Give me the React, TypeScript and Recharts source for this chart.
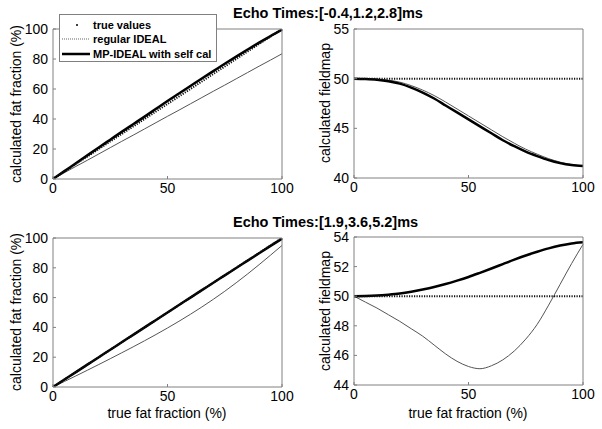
import { Legend, Line, LineChart, XAxis, YAxis } from 'recharts';

const FONT = '"Liberation Sans", Arial, sans-serif';
const AXIS_GREY = '#808080';

// true fat fraction (%) sampled every 5%
const trueFat = [0, 5, 10, 15, 20, 25, 30, 35, 40, 45, 50, 55, 60, 65, 70, 75, 80, 85, 90, 95, 100];
const trueField = [50, 50, 50, 50, 50, 50, 50, 50, 50, 50, 50, 50, 50, 50, 50, 50, 50, 50, 50, 50, 50];

// echo times [-0.4, 1.2, 2.8] ms
const fatRegularA = [0, 4.2, 8.4, 12.5, 16.7, 20.9, 25.1, 29.2, 33.4, 37.6, 41.8, 45.9, 50.1, 54.3, 58.5, 62.6, 66.8, 71.0, 75.2, 79.3, 83.5];
const fatMpA = [0, 5.25, 10.5, 15.75, 21.0, 26.2, 31.4, 36.5, 41.6, 46.8, 52.0, 57.0, 62.0, 67.0, 71.9, 76.8, 81.6, 86.3, 90.9, 95.3, 99.5];
const fieldRegularA = [50, 49.99, 49.95, 49.85, 49.65, 49.3, 48.85, 48.3, 47.65, 46.95, 46.25, 45.55, 44.85, 44.15, 43.5, 42.9, 42.4, 41.95, 41.6, 41.35, 41.2];
const fieldMpA = [50, 49.97, 49.9, 49.75, 49.5, 49.1, 48.6, 48.0, 47.3, 46.6, 45.9, 45.2, 44.5, 43.8, 43.2, 42.65, 42.2, 41.8, 41.5, 41.3, 41.2];

// echo times [1.9, 3.6, 5.2] ms
const fatRegularB = [0, 3.7, 7.45, 11.25, 15.1, 19.0, 22.95, 26.95, 31.05, 35.25, 39.6, 44.1, 48.8, 53.7, 58.85, 64.25, 69.95, 75.9, 82.1, 88.5, 95.0];
const fatMpB = [0, 5.0, 10.0, 15.0, 20.0, 25.0, 30.0, 35.0, 40.0, 45.0, 50.0, 55.0, 60.0, 65.0, 70.0, 74.9, 79.9, 84.8, 89.8, 94.7, 99.5];
const fieldRegularB = [50, 49.6, 49.2, 48.75, 48.3, 47.8, 47.3, 46.7, 46.1, 45.6, 45.25, 45.1, 45.3, 45.7, 46.3, 47.1, 48.1, 49.4, 50.8, 52.2, 53.5];
const fieldMpB = [50, 50.01, 50.04, 50.1, 50.18, 50.3, 50.45, 50.62, 50.82, 51.05, 51.3, 51.58, 51.87, 52.17, 52.47, 52.75, 53.0, 53.23, 53.42, 53.56, 53.64];

const xTicks = [0, 50, 100];
const fatTicks = [0, 20, 40, 60, 80, 100];
const fieldTicksA = [40, 45, 50, 55];
const fieldTicksB = [44, 46, 48, 50, 52, 54];

const seriesNames = ['true values', 'regular IDEAL', 'MP-IDEAL with self cal'];

const tickStyle = { fill: '#000', fontSize: 14, fontFamily: FONT };

function LegendBox() {
  return (
    <div style={{ position: 'relative', width: 156, height: 46, border: `1px solid ${AXIS_GREY}`, background: '#fff', fontFamily: FONT, fontWeight: 'bold', fontSize: 11, color: '#000', textAlign: 'left' }}>
      {seriesNames.map((name, i) => (
        <div key={name} style={{ position: 'absolute', left: 0, top: 3 + i * 14.3, width: 156, height: 14.3 }}>
          <svg width={32} height={14} style={{ position: 'absolute', left: 0, top: 0 }}>
            {i === 0 && <circle cx={17} cy={7} r={1} fill="#000" />}
            {i === 1 && <line x1={2} x2={30} y1={7} y2={7} stroke="#666" strokeWidth={1} strokeDasharray="1 1" />}
            {i === 2 && <line x1={2} x2={30} y1={7} y2={7} stroke="#000" strokeWidth={2.5} />}
          </svg>
          <span style={{ position: 'absolute', left: 33, top: 1, whiteSpace: 'nowrap', lineHeight: '12px' }}>{name}</span>
        </div>
      ))}
    </div>
  );
}

type PanelProps = {
  left: number;
  top: number;
  plotH: number;
  truth: number[];
  regular: number[];
  mp: number[];
  domain: [number, number];
  yTicks: number[];
  legend?: boolean;
};

function Panel({ left, top, plotH, truth, regular, mp, domain, yTicks, legend }: PanelProps) {
  const data = trueFat.map((x, i) => ({ x, truth: truth[i], regular: regular[i], mp: mp[i] }));
  return (
    <div style={{ position: 'absolute', left: left - 53, top: top - 10 }}>
      <LineChart width={300} height={plotH + 40} data={data} margin={{ top: 9, right: 17, bottom: 0, left: 0 }} style={{ fontFamily: FONT }}>
        <XAxis dataKey="x" type="number" domain={[0, 100]} ticks={xTicks} height={30} tickSize={-3} tickMargin={7}
          stroke={AXIS_GREY} tick={tickStyle} interval={0} />
        <XAxis xAxisId="top" orientation="top" dataKey="x" type="number" domain={[0, 100]} ticks={xTicks} height={1} tickSize={-3}
          stroke={AXIS_GREY} tick={false} />
        <YAxis type="number" domain={domain} ticks={yTicks} width={53} tickSize={-3} tickMargin={8}
          stroke={AXIS_GREY} tick={tickStyle} interval={0} allowDataOverflow />
        <YAxis yAxisId="right" orientation="right" type="number" domain={domain} ticks={yTicks} width={1} tickSize={-3}
          stroke={AXIS_GREY} tick={false} allowDataOverflow />
        <Line dataKey="regular" type="monotone" stroke="#555" strokeWidth={1} dot={false} isAnimationActive={false} />
        <Line dataKey="mp" type="monotone" stroke="#000" strokeWidth={2.5} dot={false} isAnimationActive={false} />
        <Line dataKey="truth" type="linear" stroke="#111" strokeWidth={2} strokeDasharray="1.2 1.3" dot={false} isAnimationActive={false} />
        {legend && (
          <Legend layout="horizontal" verticalAlign="middle" align="center" content={() => <LegendBox />}
            wrapperStyle={{ left: 59, top: -5, width: 158 }} />
        )}
      </LineChart>
    </div>
  );
}

const textBase = { position: 'absolute' as const, fontFamily: FONT, fontSize: 14, color: '#000', whiteSpace: 'nowrap' as const, lineHeight: 1 };

function YLabel({ x, y, text }: { x: number; y: number; text: string }) {
  return <div style={{ ...textBase, left: x, top: y, transform: 'translate(-50%, -50%) rotate(-90deg)' }}>{text}</div>;
}

function XLabel({ x, y, text }: { x: number; y: number; text: string }) {
  return <div style={{ ...textBase, left: x, top: y, transform: 'translate(-50%, -50%)' }}>{text}</div>;
}

export default function App() {
  return (
    <div style={{ position: 'absolute', left: 0, top: 0, width: 602, height: 429, background: '#fff', overflow: 'hidden' }}>
      <Panel left={354} top={29} plotH={149} truth={trueField} regular={fieldRegularA} mp={fieldMpA} domain={[40, 55]} yTicks={fieldTicksA} />
      <Panel left={53} top={238} plotH={149} truth={trueFat} regular={fatRegularB} mp={fatMpB} domain={[0, 100]} yTicks={fatTicks} />
      <Panel left={354} top={237} plotH={148} truth={trueField} regular={fieldRegularB} mp={fieldMpB} domain={[44, 54]} yTicks={fieldTicksB} />

      <div style={{ ...textBase, left: 233, top: 6, fontSize: 14.5, fontWeight: 'bold' }}>Echo Times:[-0.4,1.2,2.8]ms</div>
      <div style={{ ...textBase, left: 233, top: 215, fontSize: 14.5, fontWeight: 'bold' }}>Echo Times:[1.9,3.6,5.2]ms</div>

      <YLabel x={16} y={104} text="calculated fat fraction (%)" />
      <YLabel x={325} y={103} text="calculated fieldmap" />
      <YLabel x={16} y={312} text="calculated fat fraction (%)" />
      <YLabel x={325} y={311} text="calculated fieldmap" />
      <XLabel x={167} y={413} text="true fat fraction (%)" />
      <XLabel x={468} y={413} text="true fat fraction (%)" />

      <Panel left={53} top={29} plotH={150} truth={trueFat} regular={fatRegularA} mp={fatMpA} domain={[0, 100]} yTicks={fatTicks} legend />
    </div>
  );
}
